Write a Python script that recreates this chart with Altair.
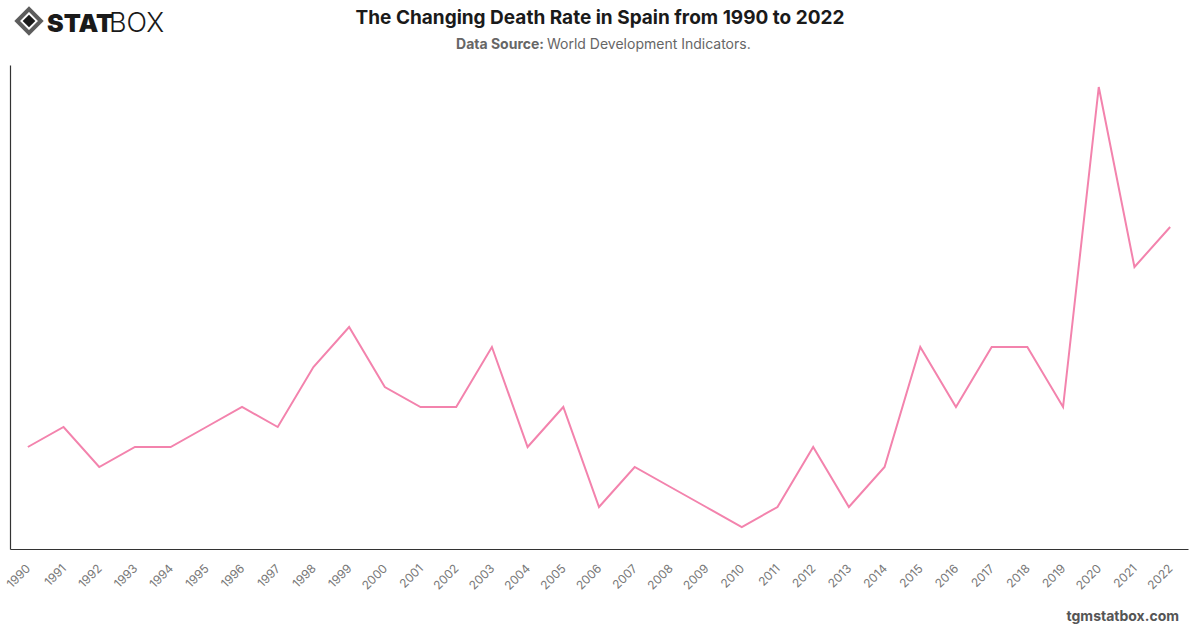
import altair as alt
import pandas as pd

# Crude death rate (per 1,000 people), Spain
years = [str(y) for y in range(1990, 2023)]
death_rate = [8.6, 8.7, 8.5, 8.6, 8.6, 8.7, 8.8, 8.7, 9.0, 9.2,
              8.9, 8.8, 8.8, 9.1, 8.6, 8.8, 8.3, 8.5, 8.4, 8.3,
              8.2, 8.3, 8.6, 8.3, 8.5, 9.1, 8.8, 9.1, 9.1, 8.8,
              10.4, 9.5, 9.7]

title_text = "The Changing Death Rate in Spain from 1990 to 2022"
source_label = "Data Source:"
source_text = "World Development Indicators."
footer_text = "tgmstatbox.com"

df = pd.DataFrame({"year": years, "rate": death_rate})

W, H = 1178, 484
FONT = "Inter"

lo, hi = min(death_rate), max(death_rate)
pad = (hi - lo) * 0.05

line = alt.Chart(df).mark_line(color="#f383ad", strokeWidth=2).encode(
    x=alt.X("year:O", sort=years,
            scale=alt.Scale(type="point", padding=0.5),
            axis=alt.Axis(title=None, labelAngle=-45, labelAlign="right",
                          labelBaseline="middle", labelPadding=17,
                          labelFontSize=12, labelColor="#777777", labelFont=FONT,
                          ticks=False, domainColor="#333333", domainWidth=1.2)),
    y=alt.Y("rate:Q", scale=alt.Scale(domain=[lo - pad, hi + pad], nice=False, zero=False),
            axis=alt.Axis(title=None, labels=False, ticks=False, grid=False,
                          domainColor="#333333", domainWidth=1.2)),
)

one = pd.DataFrame({"k": [0]})

def txt(text, x, y, size, weight="normal", color="#222222", align="center", font=FONT):
    return alt.Chart(one).mark_text(text=text, fontSize=size, fontWeight=weight,
                                    color=color, align=align, baseline="alphabetic",
                                    font=font).encode(x=alt.value(x), y=alt.value(y))

title = txt(title_text, 590, -41, 19, "bold", "#1a1a1a")
src_bold = txt(source_label, 534, -16, 14, "bold", "#666666", align="right")
src_reg = txt(source_text, 537, -16, 14, "normal", "#666666", align="left")
footer = txt(footer_text, 1169, 556, 14, "bold", "#555555", align="right")

# logo: diamond mark plus word mark
icon_outer = alt.Chart(one).mark_point(shape="diamond", size=560, filled=False,
                                       stroke="#1a1a1a", strokeWidth=4).encode(
    x=alt.value(19), y=alt.value(-44))
icon_inner = alt.Chart(one).mark_point(shape="diamond", size=160, filled=True,
                                       color="#1a1a1a", opacity=1).encode(
    x=alt.value(19), y=alt.value(-44))
logo_a = txt("STAT", 37, -33, 25, 900, "#1a1a1a", align="left")
logo_b = txt("BOX", 99, -33, 27, 300, "#1a1a1a", align="left")

chart = alt.layer(line, title, src_bold, src_reg, footer,
                  icon_outer, icon_inner, logo_a, logo_b).properties(
    width=W, height=H,
    autosize=alt.AutoSizeParams(type="none"),
    padding={"left": 10, "top": 65, "right": 12, "bottom": 79},
    background="white",
).configure_view(stroke=None)

chart.save("out.html", embed_options={"renderer": "svg", "actions": False})
